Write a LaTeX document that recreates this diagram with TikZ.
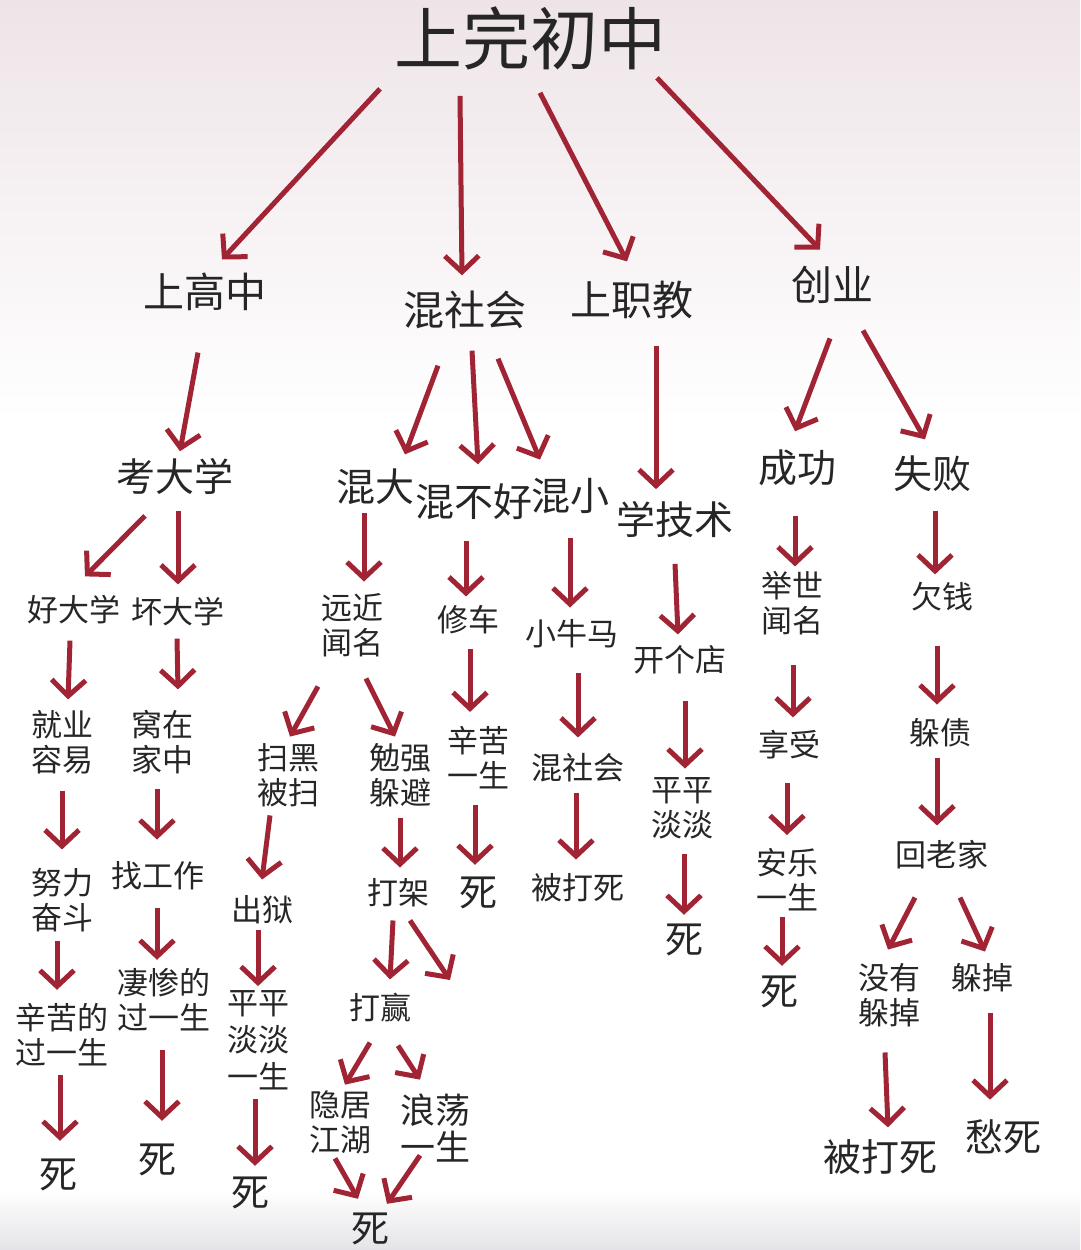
\documentclass[tikz,border=0pt]{standalone}
\usepackage{fontspec}
\setmainfont{Noto Sans CJK SC}
\usetikzlibrary{arrows.meta}
\definecolor{txt}{HTML}{262626}
\definecolor{arrowred}{HTML}{A02434}
\definecolor{bgtop}{HTML}{EEE4E8}
\definecolor{bgbot}{HTML}{E4E4E8}
\tikzset{
  big/.style={font=\fontsize{68}{72}\selectfont, inner sep=0pt, text=txt},
  lvlone/.style={font=\fontsize{41}{45}\selectfont, inner sep=0pt, text=txt},
  lvltwo/.style={font=\fontsize{39}{43}\selectfont, inner sep=0pt, text=txt},
  small/.style={font=\fontsize{31}{35}\selectfont, inner sep=0pt, text=txt, align=center},
  dead/.style={font=\fontsize{38}{42}\selectfont, inner sep=0pt, text=txt},
  arr/.style={draw=arrowred, line width=5pt, -{Straight Barb[length=16pt,width=34pt]}}
}
\begin{document}
\begin{tikzpicture}[x=1pt,y=-1pt]
\useasboundingbox (0,0) rectangle (1080,1250);
\fill[top color=bgtop, bottom color=white] (0,0) rectangle (1080,420);
\fill[top color=white, bottom color=bgbot] (0,1190) rectangle (1080,1250);

% top
\node[big] (A) at (530,38) {上完初中};
\node[lvlone] (B1) at (205,292) {上高中};
\node[lvlone] (B2) at (465,310) {混社会};
\node[lvlone] (B3) at (632,300) {上职教};
\node[lvlone] (B4) at (832,285) {创业};

\node[lvltwo] (C1) at (175,476) {考大学};
\node[lvltwo] (C2) at (375,487) {混大};
\node[lvltwo] (C3) at (474,502) {混不好};
\node[lvltwo] (C4) at (570,496) {混小};
\node[lvltwo] (C5) at (675,520) {学技术};
\node[lvltwo] (C6) at (797,468) {成功};
\node[lvltwo] (C7) at (932,474) {失败};

\node[small] (D1) at (74,610) {好大学};
\node[small] (D2) at (178,612) {坏大学};
\node[small] (D3) at (352,625) {远近\\闻名};
\node[small] (D4) at (468,620) {修车};
\node[small] (D5) at (572,634) {小牛马};
\node[small] (D6) at (680,660) {开个店};
\node[small] (D7) at (792,603) {举世\\闻名};
\node[small] (D8) at (942,597) {欠钱};

\node[small] (E1) at (62,742) {就业\\容易};
\node[small] (E2) at (162,742) {窝在\\家中};
\node[small] (E3) at (288,775) {扫黑\\被扫};
\node[small] (E4) at (400,775) {勉强\\躲避};
\node[small] (E5) at (478,758) {辛苦\\一生};
\node[small] (E6) at (578,768) {混社会};
\node[small] (E7) at (682,808) {平平\\淡淡};
\node[small] (E8) at (789,745) {享受};
\node[small] (E9) at (940,733) {躲债};

\node[small] (F1) at (62,900) {努力\\奋斗};
\node[small] (F2) at (158,876) {找工作};
\node[small] (F3) at (262,910) {出狱};
\node[small] (F4) at (398,893) {打架};
\node[dead] (F5) at (478,893) {死};
\node[small] (F6) at (578,888) {被打死};
\node[small] (F7) at (787,880) {安乐\\一生};
\node[small] (F8) at (942,855) {回老家};
\node[dead] (F9) at (684,940) {死};

\node[small] (G1) at (62,1035) {辛苦的\\过一生};
\node[small] (G2) at (164,1000) {凄惨的\\过一生};
\node[small, font=\fontsize{31}{37}\selectfont] (G3) at (258,1040) {平平\\淡淡\\一生};
\node[small] (G4) at (380,1008) {打赢};
\node[small] (G5) at (889,995) {没有\\躲掉};
\node[small] (G6) at (982,978) {躲掉};
\node[dead] (G7) at (779,992) {死};
\coordinate (X) at (450,980);

\node[small] (H1) at (340,1122) {隐居\\江湖};
\node[small, font=\fontsize{35}{37}\selectfont] (H2) at (435,1128) {浪荡\\一生};
\node[dead] (H3) at (58,1175) {死};
\node[dead] (H4) at (157,1160) {死};
\node[dead] (H5) at (250,1193) {死};
\node[dead] (H6) at (370,1229) {死};
\node[dead] (H7) at (880,1157) {被打死};
\node[dead] (H8) at (1003,1137) {愁死};

% arrows
\draw[arr] ([shift={(-150,19)}]A.south) -- ([shift={(17,-13.5)}]B1.north);
\draw[arr] ([shift={(-70,26)}]A.south) -- ([shift={(-3,-15.5)}]B2.north);
\draw[arr] ([shift={(10,23)}]A.south) -- ([shift={(-5,-19.5)}]B3.north);
\draw[arr] ([shift={(127,8)}]A.south) -- ([shift={(-12,-16.5)}]B4.north);

\draw[arr] ([shift={(-7,41.5)}]B1.south) -- ([shift={(5,-6.5)}]C1.north);
\draw[arr] ([shift={(-27,36.5)}]B2.south) -- ([shift={(30,-14.5)}]C2.north);
\draw[arr] ([shift={(7,21.5)}]B2.south) -- ([shift={(4,-19.5)}]C3.north);
\draw[arr] ([shift={(33,29.5)}]B2.south) -- ([shift={(-30,-18.5)}]C4.north);
\draw[arr] ([shift={(24,26.5)}]B3.south) -- ([shift={(-19,-12.5)}]C5.north);
\draw[arr] ([shift={(-2,34.5)}]B4.south) -- ([shift={(-2,-18.5)}]C6.north);
\draw[arr] ([shift={(31,26.5)}]B4.south) -- ([shift={(-7,-16.5)}]C7.north);

\draw[arr] ([shift={(-30,21.5)}]C1.south) -- ([shift={(11,-19)}]D1.north);
\draw[arr] ([shift={(3,16.5)}]C1.south) -- ([shift={(0,-13)}]D2.north);
\draw[arr] ([shift={(-11,7.5)}]C2.south) -- ([shift={(12,-11.5)}]D3.north);
\draw[arr] ([shift={(-8,20.5)}]C3.south) -- ([shift={(-2,-9)}]D4.north);
\draw[arr] ([shift={(0,24.5)}]C4.south) -- ([shift={(-2,-12)}]D5.north);
\draw[arr] ([shift={(0,25.5)}]C5.south) -- ([shift={(-2,-11)}]D6.north);
\draw[arr] ([shift={(-2,29.5)}]C6.south) -- ([shift={(3,-4.5)}]D7.north);
\draw[arr] ([shift={(3,18.5)}]C7.south) -- ([shift={(-7,-8)}]D8.north);

\draw[arr] ([shift={(-4,16)}]D1.south) -- ([shift={(6,-10.5)}]E1.north);
\draw[arr] ([shift={(-1,12)}]D2.south) -- ([shift={(16,-20.5)}]E2.north);
\draw[arr] ([shift={(-34,29.5)}]D3.south) -- ([shift={(2,-6.5)}]E3.north);
\draw[arr] ([shift={(14,21.5)}]D3.south) -- ([shift={(-5,-6.5)}]E4.north);
\draw[arr] ([shift={(2,14)}]D4.south) -- ([shift={(-8,-14.5)}]E5.north);
\draw[arr] ([shift={(6,25)}]D5.south) -- ([shift={(0,-16)}]E6.north);
\draw[arr] ([shift={(5,26)}]D6.south) -- ([shift={(3,-8.5)}]E7.north);
\draw[arr] ([shift={(1,29.5)}]D7.south) -- ([shift={(4,-13)}]E8.north);
\draw[arr] ([shift={(-5,34)}]D8.south) -- ([shift={(-3,-14)}]E9.north);

\draw[arr] ([shift={(0,16.5)}]E1.south) -- ([shift={(0,-18.5)}]F1.north);
\draw[arr] ([shift={(-5,14.5)}]E2.south) -- ([shift={(-1,-22)}]F2.north);
\draw[arr] ([shift={(-18,8.5)}]E3.south) -- ([shift={(0,-16)}]F3.north);
\draw[arr] ([shift={(0,11.5)}]E4.south) -- ([shift={(2,-11)}]F4.north);
\draw[arr] ([shift={(-3,15.5)}]E5.south) -- ([shift={(-3,-12)}]F5.north);
\draw[arr] ([shift={(-2,10)}]E6.south) -- ([shift={(-2,-14)}]F6.north);
\draw[arr] ([shift={(2,15.5)}]E7.south) -- ([shift={(0,-9)}]F9.north);
\draw[arr] ([shift={(-2,23)}]E8.south) -- ([shift={(0,-13.5)}]F7.north);
\draw[arr] ([shift={(-3,11)}]E9.south) -- ([shift={(-5,-15)}]F8.north);

\draw[arr] ([shift={(-5,8.5)}]F1.south) -- ([shift={(-5,-13.5)}]G1.north);
\draw[arr] ([shift={(-1,18)}]F2.south) -- ([shift={(-7,-8.5)}]G2.north);
\draw[arr] ([shift={(-4,6)}]F3.south) -- ([shift={(0,-4)}]G3.north);
\draw[arr] ([shift={(-5,13)}]F4.south) -- ([shift={(10,-14)}]G4.north);
\draw[arr] ([shift={(12,13)}]F4.south) -- (X);
\draw[arr] ([shift={(-5,5.5)}]F7.south) -- ([shift={(3,-10)}]G7.north);
\draw[arr] ([shift={(-27,28)}]F8.south) -- ([shift={(-1,-13.5)}]G5.north);
\draw[arr] ([shift={(18,28)}]F8.south) -- ([shift={(3,-12)}]G6.north);

\draw[arr] ([shift={(-2,8.5)}]G1.south) -- ([shift={(2,-18)}]H3.north);
\draw[arr] ([shift={(-2,18.5)}]G2.south) -- ([shift={(5,-23)}]H4.north);
\draw[arr] ([shift={(-3,9)}]G3.south) -- ([shift={(5,-11)}]H5.north);
\draw[arr] ([shift={(-10,20)}]G4.south) -- ([shift={(5,-5.5)}]H1.north);
\draw[arr] ([shift={(18,23)}]G4.south) -- ([shift={(-15,-14)}]H2.north);
\draw[arr] ([shift={(-5,4.5)}]H1.south) -- ([shift={(-12,-14)}]H6.north);
\draw[arr] ([shift={(-15,-7)}]H2.south) -- ([shift={(17,-9)}]H6.north);
\draw[arr] ([shift={(-4,25.5)}]G5.south) -- ([shift={(8,-12)}]H7.north);
\draw[arr] ([shift={(8,21)}]G6.south) -- ([shift={(-13,-20)}]H8.north);
\end{tikzpicture}
\end{document}
